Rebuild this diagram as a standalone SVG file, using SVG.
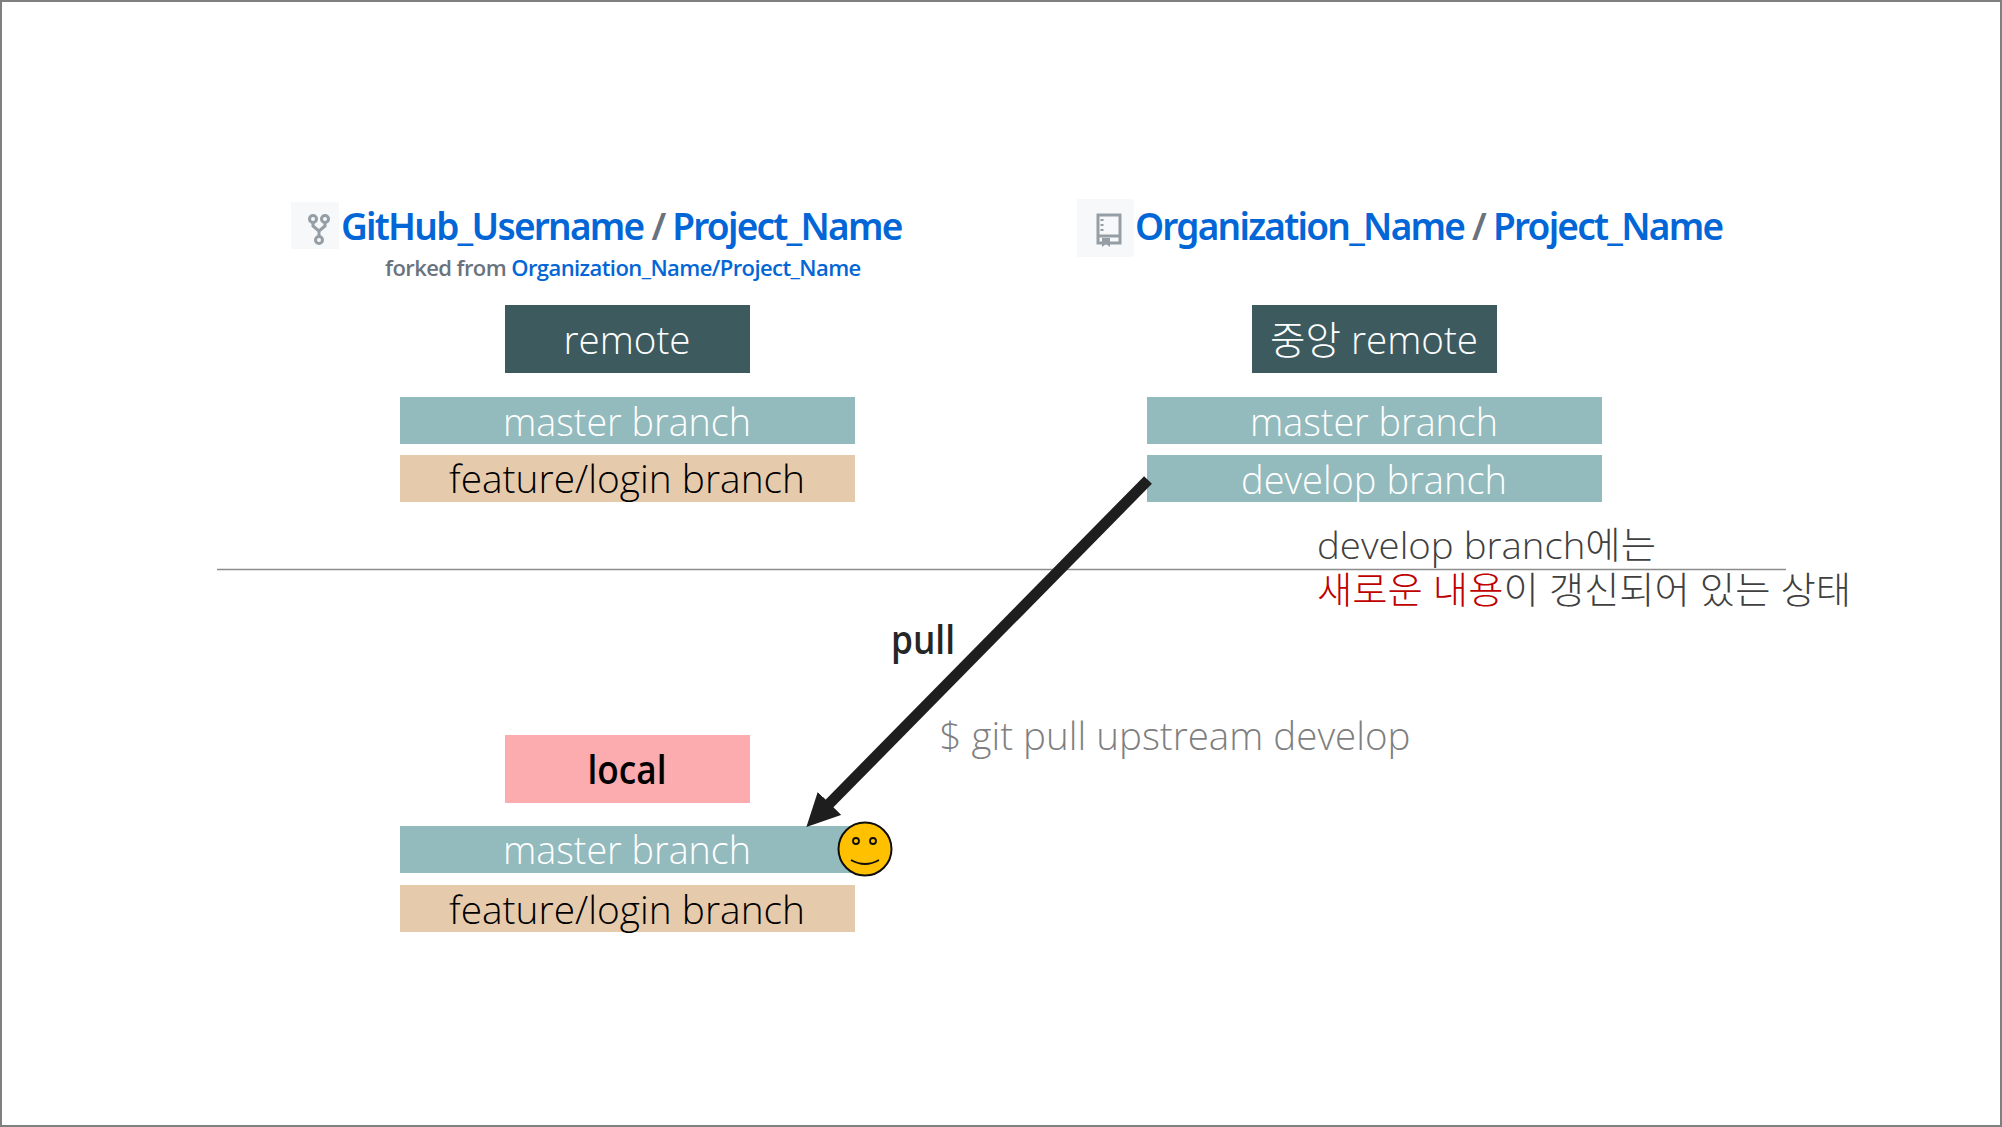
<svg xmlns="http://www.w3.org/2000/svg" width="2002" height="1127" viewBox="0 0 2002 1127">
<style>
text{font-family:"Open Sans","Noto Sans CJK KR",sans-serif;font-weight:300;text-anchor:middle;font-size:39px}
.w{fill:#fff}.k{fill:#000}
.t{font-family:"Noto Sans","Noto Sans CJK KR",sans-serif;font-weight:600;font-size:37px;letter-spacing:-1.75px;text-anchor:start;fill:#0366d6}
.s{fill:#6a737d}
.rm{fill:#3d5a5f}.br{fill:#93babd}.fe{fill:#e6caac}.lo{fill:#fcacae}
.ic{fill:#f6f8fa}.ig{fill:none;stroke:#959da5;stroke-width:3}
.n{text-anchor:start;fill:#404040;font-size:37px}
</style>
<defs><marker id="ah" markerUnits="strokeWidth" markerWidth="3.2" markerHeight="3" viewBox="0 0 3.2 3" refX="0.2" refY="1.5" orient="auto"><path d="M0 0L3 1.5L0 3Z" fill="#1e1e1e"/></marker></defs>
<rect width="2002" height="1127" fill="#fff"/>
<rect x="1" y="1" width="2000" height="1125" fill="none" stroke="#7f7f7f" stroke-width="2"/>
<line id="divider" x1="217" y1="569.5" x2="1786" y2="569.5" stroke="#8c8c8c" stroke-width="1.5"/>

<g id="fork-title">
<rect class="ic" x="291" y="202" width="48" height="47"/>
<g class="ig"><circle cx="313" cy="219" r="3.5"/><circle cx="325" cy="219" r="3.5"/><circle cx="319" cy="240" r="3.5"/><path d="M313 222.500V226L319 231V236.500M325 222.500V226L319 231"/></g>
<text class="t" x="341" y="240">GitHub_Username <tspan class="s">/</tspan> Project_Name</text>
<text x="385" y="276" style="font-size:22px;font-weight:600;letter-spacing:-0.58px;text-anchor:start;fill:#0366d6"><tspan class="s">forked from</tspan> Organization_Name/Project_Name</text>
</g>
<g id="org-title">
<rect class="ic" x="1077" y="199" width="57" height="58"/>
<g class="ig"><path d="M1098 215H1120V243H1098ZM1098 236H1120"/><path d="M1102 219V232" stroke-dasharray="2 3"/></g><path d="M1102 238H1110V247L1106 244L1102 247Z" fill="#959da5"/>
<text class="t" x="1135" y="240">Organization_Name <tspan class="s">/</tspan> Project_Name</text>
</g>

<g id="remote"><rect class="rm" x="505" y="305" width="245" height="68"/><text class="w" x="627" y="354" textLength="127" lengthAdjust="spacingAndGlyphs">remote</text></g>
<g id="remote-master"><rect class="br" x="400" y="397" width="455" height="47"/><text class="w" x="627" y="436" textLength="248" lengthAdjust="spacingAndGlyphs">master branch</text></g>
<g id="remote-feature"><rect class="fe" x="400" y="455" width="455" height="47"/><text class="k" x="627" y="493" textLength="356" lengthAdjust="spacingAndGlyphs">feature/login branch</text></g>

<g id="central-remote"><rect class="rm" x="1252" y="305" width="245" height="68"/><text class="w" x="1374" y="354" textLength="208" lengthAdjust="spacingAndGlyphs">중앙 remote</text></g>
<g id="central-master"><rect class="br" x="1147" y="397" width="455" height="47"/><text class="w" x="1374" y="436" textLength="248" lengthAdjust="spacingAndGlyphs">master branch</text></g>
<g id="central-develop"><rect class="br" x="1147" y="455" width="455" height="47"/><text class="w" x="1374" y="494" textLength="266" lengthAdjust="spacingAndGlyphs">develop branch</text></g>

<g id="note"><text class="n"><tspan x="1317" y="559" textLength="339" lengthAdjust="spacingAndGlyphs">develop branch에는</tspan><tspan x="1317" y="604" textLength="534" lengthAdjust="spacingAndGlyphs"><tspan fill="#c00000">새로운 내용</tspan>이 갱신되어 있는 상태</tspan></text></g>

<g id="local"><rect class="lo" x="505" y="735" width="245" height="68"/><text class="k" x="627" y="784" style="font-weight:600;font-size:40px" textLength="79" lengthAdjust="spacingAndGlyphs">local</text></g>
<g id="local-master"><rect class="br" x="400" y="826" width="455" height="47"/><text class="w" x="627" y="864" textLength="248" lengthAdjust="spacingAndGlyphs">master branch</text></g>
<g id="local-feature"><rect class="fe" x="400" y="885" width="455" height="47"/><text class="k" x="627" y="924" textLength="356" lengthAdjust="spacingAndGlyphs">feature/login branch</text></g>

<g id="connectors"><line x1="1148" y1="480" x2="828" y2="805" stroke="#1e1e1e" stroke-width="11" marker-end="url(#ah)"/></g>
<g id="labels"><text x="923" y="654" style="font-weight:600;fill:#262626" textLength="64" lengthAdjust="spacingAndGlyphs">pull</text>
<text x="1175" y="750" style="fill:#7f7f7f" textLength="471" lengthAdjust="spacingAndGlyphs">$ git pull upstream develop</text></g>

<g id="smiley" stroke="#0d0d0d" fill="none"><circle cx="865" cy="849" r="26.5" fill="#ffc000" stroke-width="2"/><circle cx="856" cy="841" r="3" stroke-width="1.8"/><circle cx="873" cy="841" r="3" stroke-width="1.8"/><path d="M851 860Q865 868 879 860" stroke-width="2"/></g>
</svg>
